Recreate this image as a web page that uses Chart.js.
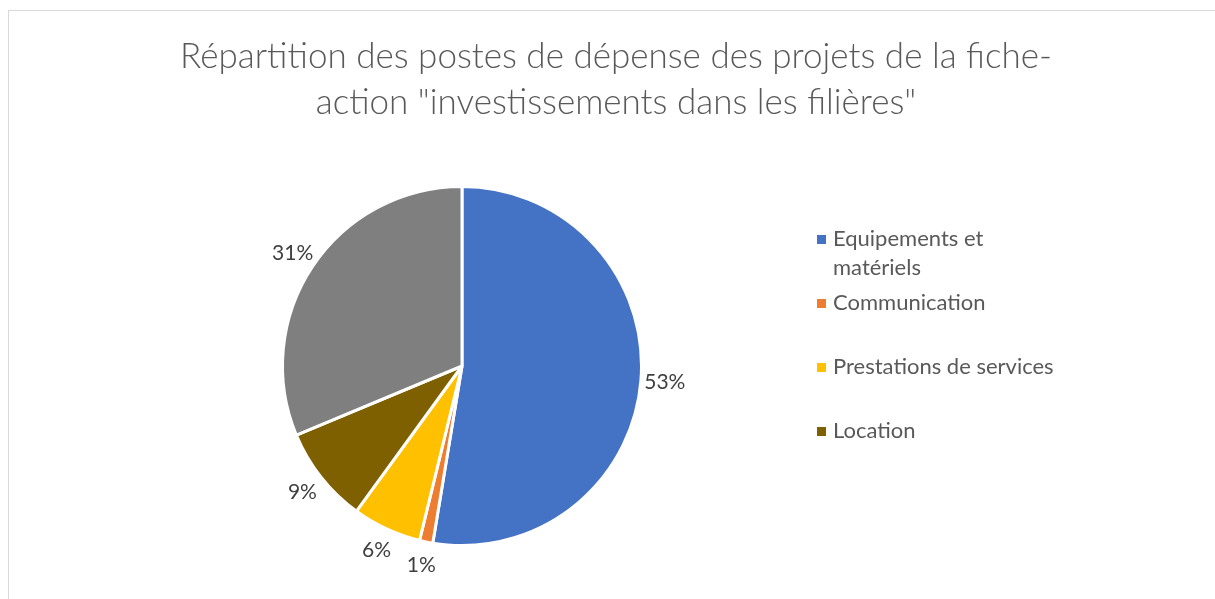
<!DOCTYPE html>
<html>
<head>
<meta charset="utf-8">
<script src="https://cdn.jsdelivr.net/npm/chart.js@4"></script>
<style>
body { margin: 0; background: #fff; }
#wrap { position: relative; width: 1215px; height: 599px; overflow: hidden; }
#frame { position: absolute; left: 8px; top: 10px; width: 1400px; height: 800px; border: 1px solid #d9d9d9; }
canvas { position: absolute; left: 0; top: 0; }
</style>
</head>
<body>
<div id="wrap">
  <div id="frame"></div>
  <canvas id="pieChart" width="1215" height="599"></canvas>
</div>
<script>
const titleLines = [
    'Répartition des postes de dépense des projets de la fiche-',
    'action "investissements dans les filières"'
];
const categories = ['Equipements et matériels', 'Communication', 'Prestations de services', 'Location', 'Autres'];
// legend only shows the first four entries, first one wrapped on two lines
const legendLines = [['Equipements et', 'matériels'], ['Communication'], ['Prestations de services'], ['Location']];
const shares = [52.6, 1.2, 6.2, 8.7, 31.3];
const colours = ['#4472c4', '#ed7d31', '#ffc000', '#7f6000', '#7f7f7f'];

const FONT = 'Lato, "Open Sans", sans-serif';

const decor = {
    id: 'decor',
    afterDatasetsDraw(chart) {
        const ctx = chart.ctx;
        ctx.save();

        // title
        ctx.fillStyle = '#595959';
        ctx.font = '300 35px ' + FONT;
        ctx.textAlign = 'center';
        ctx.textBaseline = 'middle';
        titleLines.forEach((t, i) => ctx.fillText(t, 616, 57 + i * 46));

        // percentage labels outside each slice
        const arcs = chart.getDatasetMeta(0).data;
        ctx.font = '21px ' + FONT;
        ctx.fillStyle = '#404040';
        arcs.forEach((arc, i) => {
            const mid = (arc.startAngle + arc.endAngle) / 2;
            const d = arc.outerRadius + 24;
            ctx.fillText(Math.round(shares[i]) + '%', arc.x + Math.cos(mid) * d, arc.y + Math.sin(mid) * d);
        });

        // legend
        ctx.textAlign = 'left';
        ctx.font = '22px ' + FONT;
        legendLines.forEach((lines, i) => {
            const y = 239 + i * 64;
            ctx.fillStyle = colours[i];
            ctx.fillRect(817, y - 4, 9, 9);
            ctx.fillStyle = '#595959';
            lines.forEach((l, j) => ctx.fillText(l, 833, y + j * 29));
        });
        ctx.restore();
    }
};

new Chart(document.getElementById('pieChart'), {
    type: 'pie',
    data: {
        labels: categories,
        datasets: [{
            data: shares,
            backgroundColor: colours,
            borderColor: '#ffffff',
            borderWidth: 3
        }]
    },
    options: {
        responsive: false,
        animation: false,
        layout: { padding: { left: 281, right: 572, top: 185, bottom: 52 } },
        plugins: {
            legend: { display: false },
            title: { display: false },
            tooltip: { enabled: false }
        }
    },
    plugins: [decor]
});
</script>
</body>
</html>
